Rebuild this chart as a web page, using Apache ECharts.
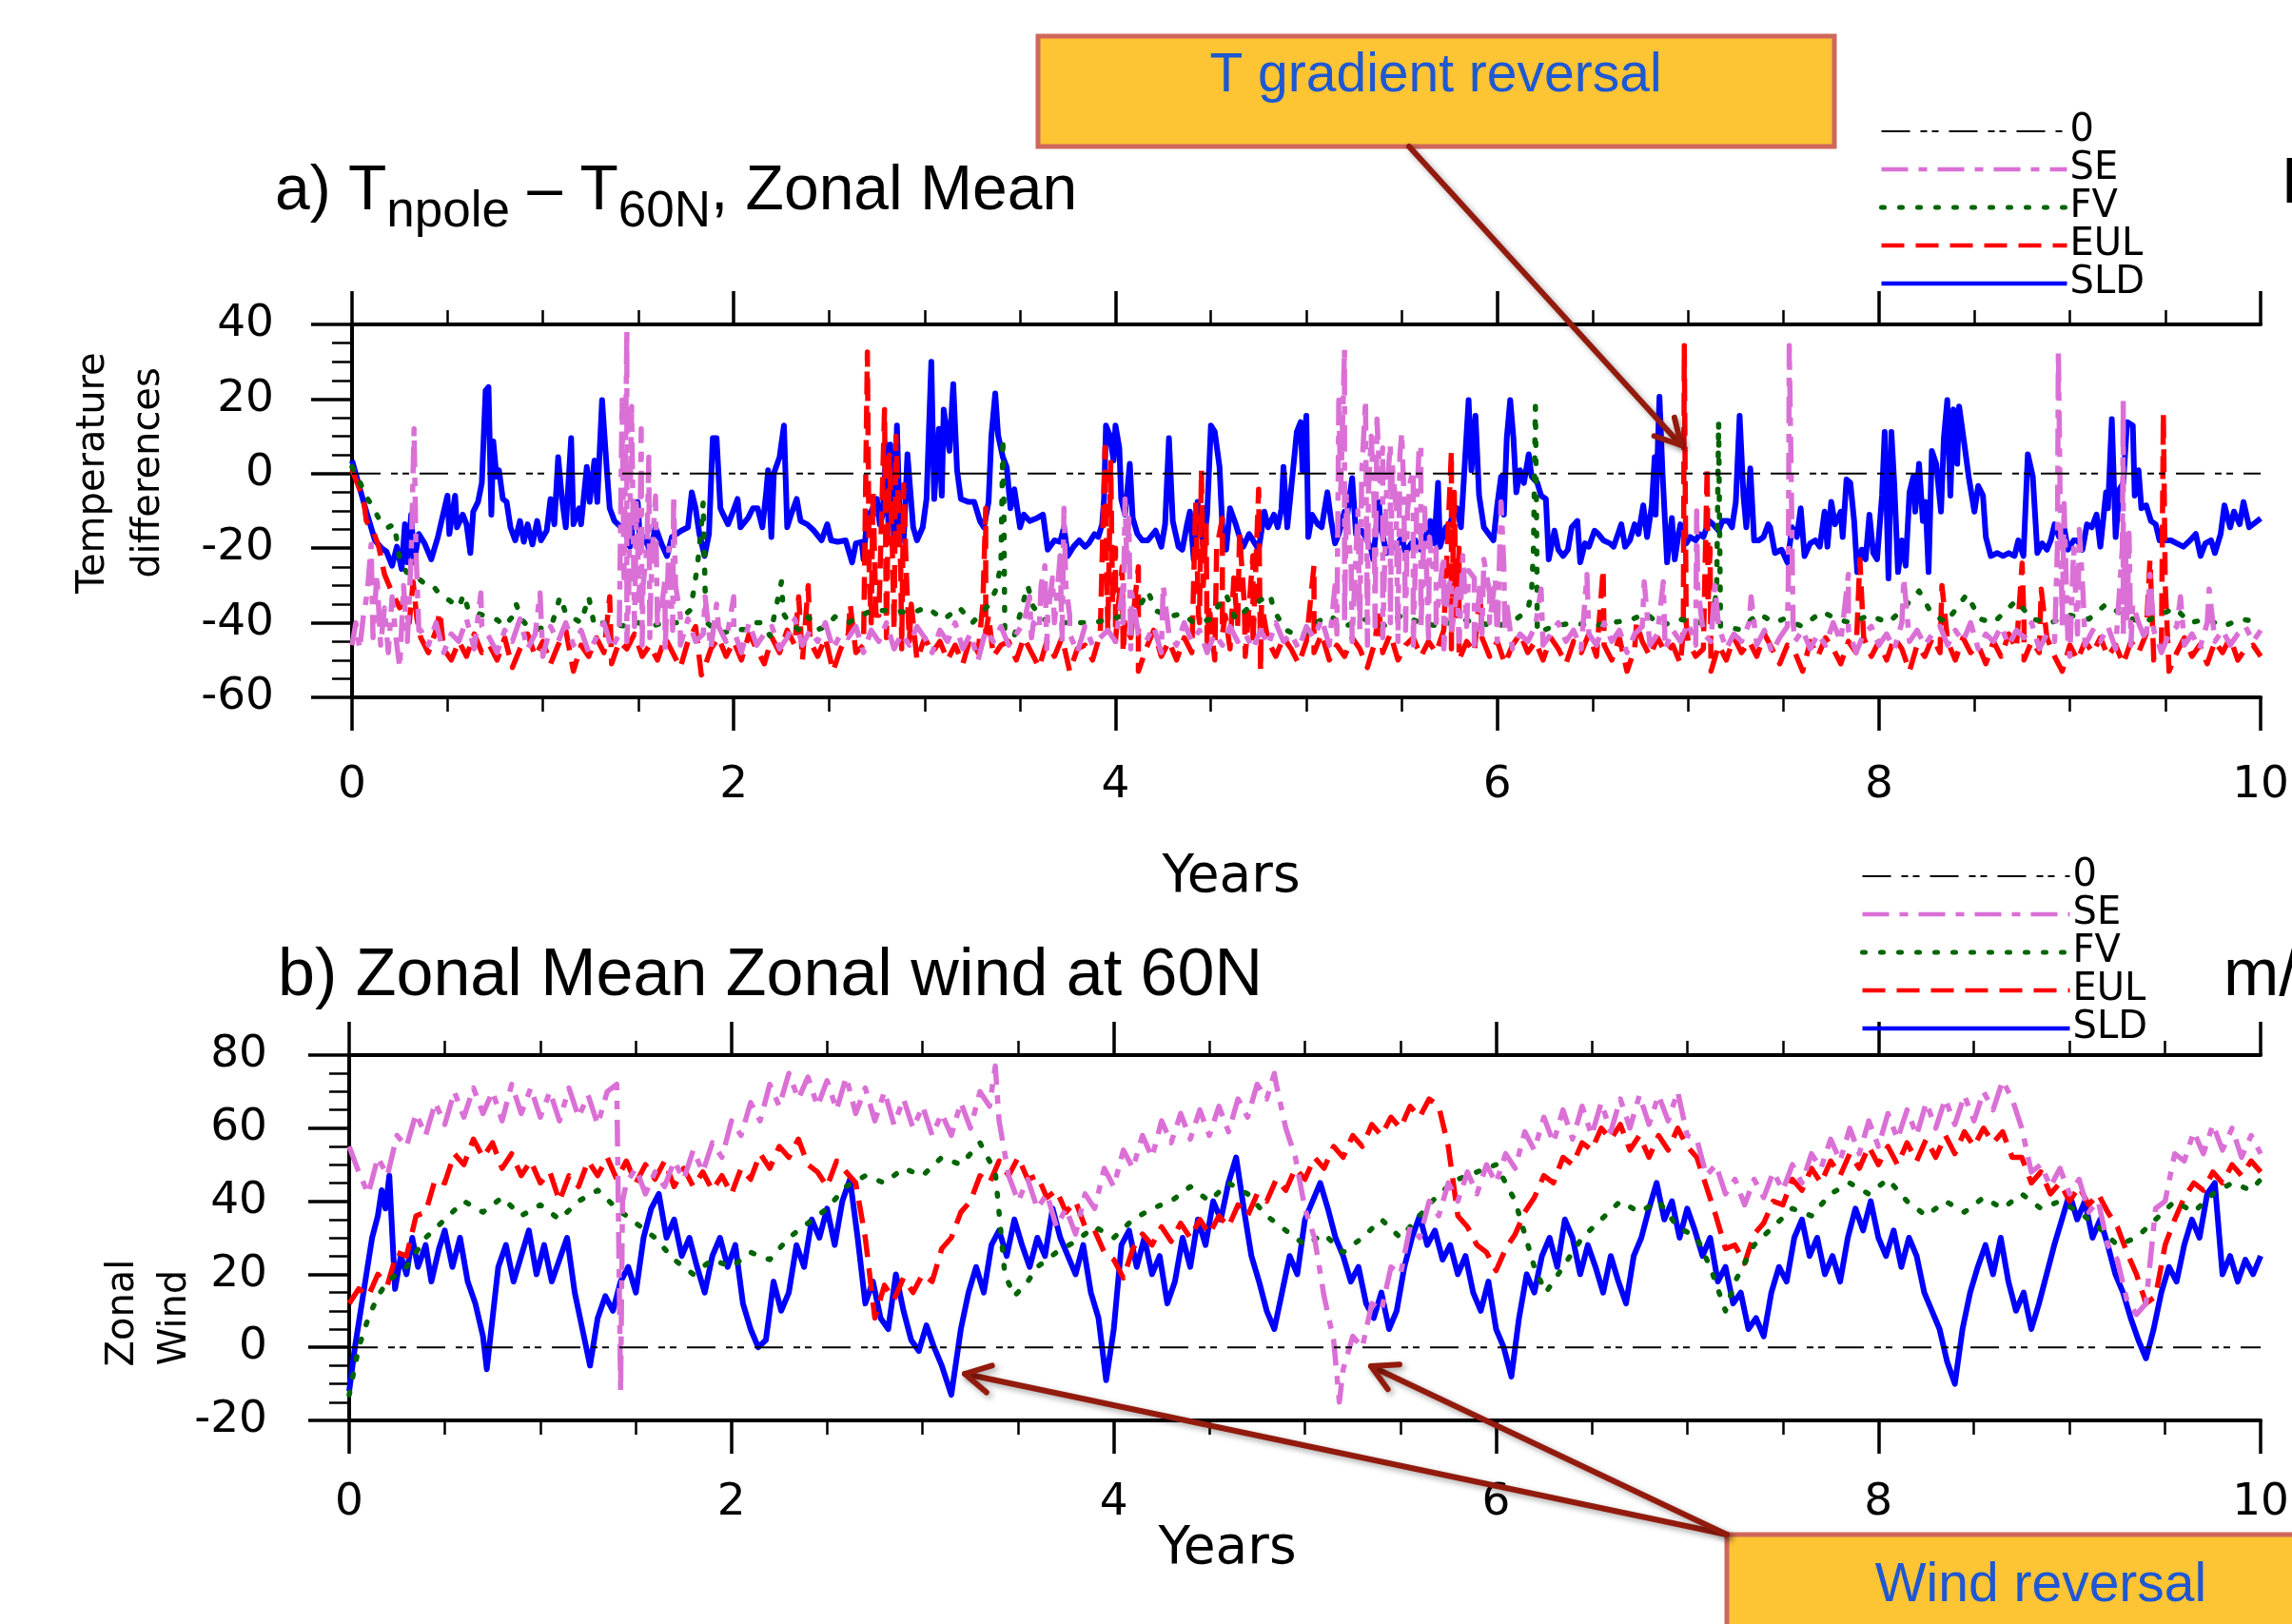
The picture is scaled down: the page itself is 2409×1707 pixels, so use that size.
<!DOCTYPE html>
<html><head><meta charset="utf-8">
<script src="https://cdn.jsdelivr.net/npm/echarts@6/dist/echarts.min.js"></script>
<style>html,body{margin:0;padding:0;background:#fff;overflow:hidden}#c{width:2409px;height:1707px}</style>
</head><body><div id="c"></div><script>
// ---------------- DATA ----------------
const legendOrder = ['0', 'SE', 'FV', 'EUL', 'SLD'];
const yearTicks = [0, 2, 4, 6, 8, 10];
const tempTicks = [-60, -40, -20, 0, 20, 40];
const windTicks = [-20, 0, 20, 40, 60, 80];

// sampling grids (years) for the noisy daily curves
const tempGridStart = 0.36, tempGridStep = 0.04;
const windGridStart = 0, windGridStep = 0.05;

// ---- panel a: T_npole - T_60N ----
const sldTemp = [[0,3.5],[0.07,-9.3],[0.12,-17.9],[0.155,-20],[0.18,-20.9],[0.21,-24.7],[0.235,-19.6],[0.26,-25.6],[0.277,-13.6],[0.29,-23.8],[0.31,-11],[0.325,-23.8],[0.35,-16.2],[0.38,-18.7],[0.415,-23],[0.45,-17],[0.465,-13.6],[0.5,-5.9],[0.51,-16.2],[0.54,-5.9],[0.55,-14.4],[0.58,-11],[0.6,-13.6],[0.62,-21.3],[0.635,-10.2],[0.66,-7.6],[0.68,-2.5],[0.7,22.3],[0.715,23.2],[0.73,-11],[0.74,8.6],[0.757,-0.8],[0.77,0.9],[0.79,-6.8],[0.81,-7.6],[0.83,-14.4],[0.855,-17.9],[0.88,-12.7],[0.9,-18.3],[0.92,-13.6],[0.945,-19],[0.97,-12.7],[0.99,-17.9],[1.02,-15.3],[1.04,-6.8],[1.06,-13.6],[1.08,4.4],[1.1,-6.8],[1.12,-14.4],[1.148,9.5],[1.16,-13.6],[1.19,-9.3],[1.2,-13.6],[1.23,1.8],[1.245,-7.6],[1.27,3.5],[1.285,-7.6],[1.31,19.7],[1.335,0.9],[1.35,-9.3],[1.375,-12.7],[1.41,-14.4],[1.43,-15.3],[1.456,-19.6],[1.47,-14.4],[1.497,-7.6],[1.51,-19.6],[1.54,-17],[1.56,-21.3],[1.59,-14.4],[1.62,-18.7],[1.65,-22.1],[1.676,-17],[1.7,-16.2],[1.725,-15.3],[1.76,-14.4],[1.78,-5],[1.8,-9.3],[1.82,-16.2],[1.847,-22.1],[1.87,-16.2],[1.89,9.5],[1.91,9.5],[1.93,-9.3],[1.945,-11],[1.97,-13.6],[1.99,-11],[2.02,-6.8],[2.035,-14.4],[2.075,-11.9],[2.1,-9.3],[2.125,-9.3],[2.15,-14.4],[2.17,-5],[2.18,0.9],[2.197,-17],[2.21,0.1],[2.24,4.4],[2.263,12.9],[2.28,-14.4],[2.3,-11],[2.33,-6.8],[2.35,-12.7],[2.385,-13.6],[2.42,-15.3],[2.46,-17.9],[2.49,-13.6],[2.51,-17.9],[2.545,-18.3],[2.586,-17.9],[2.62,-23.8],[2.64,-18.7],[2.67,-18.3],[2.68,-23],[2.7,-11],[2.72,-10.2],[2.75,-6.8],[2.765,-13.6],[2.78,-11],[2.8,7.8],[2.81,-13.6],[2.82,7.8],[2.84,-17.9],[2.855,12.9],[2.87,-14.4],[2.89,-17.9],[2.91,5.2],[2.94,-14.4],[2.96,-17.9],[2.99,-14.4],[3.01,-6.8],[3.035,30],[3.05,-6.8],[3.075,12],[3.09,-5.9],[3.1,17.2],[3.13,6.1],[3.15,24],[3.17,0.9],[3.19,-6.8],[3.23,-7.6],[3.26,-7.6],[3.29,-12.7],[3.31,-14.4],[3.335,-7.6],[3.35,10.3],[3.37,21.5],[3.385,10.3],[3.41,4.4],[3.43,1.8],[3.45,-9.3],[3.47,-4.2],[3.5,-14.4],[3.52,-11],[3.55,-12.7],[3.59,-11.9],[3.62,-11],[3.645,-20.4],[3.68,-17.9],[3.71,-18.3],[3.73,-14.4],[3.75,-22.1],[3.78,-19.6],[3.81,-17.9],[3.84,-19.6],[3.86,-18.7],[3.89,-16.2],[3.91,-17],[3.93,-13.6],[3.94,-6.8],[3.95,12.9],[3.97,10.3],[3.99,3.5],[4.0,12.9],[4.02,6.9],[4.03,-6.8],[4.05,-11],[4.075,2.6],[4.09,-11.9],[4.115,-16.2],[4.14,-17.9],[4.17,-17.9],[4.21,-15.3],[4.24,-19.6],[4.26,-13.6],[4.28,9.5],[4.3,-12.7],[4.33,-19.6],[4.35,-20.4],[4.375,-13.6],[4.39,-10.2],[4.41,-23],[4.43,-7.6],[4.46,-19.6],[4.48,-11],[4.5,12.9],[4.52,11.2],[4.545,1.8],[4.56,-14.4],[4.58,-20.4],[4.6,-9.3],[4.63,-13.6],[4.65,-17],[4.67,-19.6],[4.7,-16.2],[4.73,-18.7],[4.75,-20.4],[4.78,-10.2],[4.8,-14.4],[4.83,-11],[4.85,-14.4],[4.87,-9.3],[4.88,1.8],[4.9,-14.4],[4.93,0.9],[4.95,11.2],[4.97,13.8],[4.98,0.9],[5.0,15.5],[5.01,-17],[5.03,-11],[5.06,-13.6],[5.08,-14.4],[5.11,-5],[5.13,-12.7],[5.15,-18.7],[5.17,-16.2],[5.2,-10.2],[5.21,-12.7],[5.24,-1.2],[5.26,-16.2],[5.29,-15.3],[5.31,-17],[5.34,-20.4],[5.35,-23],[5.38,-7.6],[5.39,-14.4],[5.42,-21.3],[5.44,-19.6],[5.47,-19.6],[5.5,-17],[5.52,-21.3],[5.55,-18.7],[5.57,-17.9],[5.6,-20.4],[5.63,-16.2],[5.65,-12.7],[5.67,-18.7],[5.69,-2.5],[5.7,-19.6],[5.73,-14.4],[5.75,-13.6],[5.77,-11],[5.79,-9.3],[5.81,-14.4],[5.83,2.6],[5.85,19.7],[5.865,0.9],[5.886,15.5],[5.905,-5.9],[5.93,-14.4],[5.955,-16.2],[5.98,-17.9],[6.0,-8.5],[6.02,-0.8],[6.035,-11],[6.05,9.5],[6.068,19.7],[6.085,9.5],[6.1,-5],[6.12,0.9],[6.14,-2.5],[6.165,5.2],[6.18,-0.8],[6.21,-2.5],[6.23,-5.9],[6.255,-6.8],[6.27,-23],[6.3,-15.3],[6.32,-20.4],[6.345,-22.1],[6.37,-20.4],[6.39,-14.4],[6.42,-12.7],[6.435,-23.8],[6.46,-18.7],[6.48,-19.6],[6.51,-15.3],[6.53,-16.2],[6.556,-17.9],[6.59,-18.7],[6.61,-19.6],[6.65,-13.6],[6.67,-19.6],[6.695,-17.9],[6.72,-13.6],[6.74,-16.2],[6.765,-8.5],[6.785,-17],[6.81,-8.5],[6.825,4.4],[6.83,-11],[6.85,20.6],[6.866,0.1],[6.89,-23.8],[6.915,-11.9],[6.93,-23],[6.95,-16.2],[6.96,-13.6],[6.99,-18.7],[7.01,-17],[7.04,-17.9],[7.06,-16.2],[7.08,-17],[7.11,-12.7],[7.13,-13.6],[7.16,-15.3],[7.18,-12.7],[7.21,-12.7],[7.23,-14.4],[7.25,-7.6],[7.27,15.5],[7.29,-5.9],[7.305,-14.4],[7.326,1.4],[7.346,-17.9],[7.37,-17.9],[7.395,-17],[7.42,-13.6],[7.43,-14.4],[7.455,-21.3],[7.49,-20.4],[7.52,-23.8],[7.545,-14.4],[7.57,-17],[7.59,-9.3],[7.61,-22.1],[7.64,-18.7],[7.666,-17.9],[7.69,-19.6],[7.715,-10.2],[7.73,-19.6],[7.75,-7.6],[7.77,-13.6],[7.8,-10.2],[7.81,-17],[7.83,-1.6],[7.85,-2.5],[7.87,-12.7],[7.886,-26.4],[7.91,-20.4],[7.93,-23],[7.95,-11],[7.97,-21.3],[7.99,-23],[8.016,-5.9],[8.03,11.2],[8.05,-28.1],[8.065,11.2],[8.08,-2.5],[8.1,-26.4],[8.12,-17.9],[8.14,-24.7],[8.16,-5],[8.18,-0.8],[8.19,-10.2],[8.21,2.6],[8.23,-12.7],[8.244,-7.6],[8.26,-26.4],[8.277,6.1],[8.3,2.6],[8.325,-10.2],[8.34,9.5],[8.358,19.7],[8.374,-5.9],[8.39,17.2],[8.41,2.6],[8.42,18],[8.45,6.9],[8.47,-0.8],[8.5,-10.2],[8.52,-3.3],[8.545,-5.9],[8.56,-17],[8.586,-22.1],[8.62,-21.3],[8.65,-22.1],[8.68,-21.3],[8.71,-22.1],[8.73,-17.9],[8.757,-22.1],[8.78,5.2],[8.806,-0.8],[8.83,-21.3],[8.855,-18.7],[8.88,-20.4],[8.9,-17.9],[8.92,-13.6],[8.944,-17],[8.97,-14.4],[8.99,-20.4],[9.02,-17.9],[9.04,-17.9],[9.066,-20.4],[9.09,-13.6],[9.115,-14.4],[9.14,-11],[9.16,-19.6],[9.19,-5],[9.2,-9.3],[9.22,14.6],[9.24,-17],[9.26,-4.2],[9.28,-2.5],[9.3,13.8],[9.33,12.9],[9.34,-5.9],[9.36,0.9],[9.375,-9.3],[9.4,-8.5],[9.425,-12.7],[9.45,-13.6],[9.47,-17.9],[9.5,-17.9],[9.53,-17.9],[9.56,-18.7],[9.595,-19.6],[9.63,-17.9],[9.66,-16.2],[9.685,-22.1],[9.71,-18.7],[9.74,-17.9],[9.76,-21.3],[9.79,-16.2],[9.81,-8.5],[9.84,-14.4],[9.86,-10.2],[9.89,-13.6],[9.91,-7.6],[9.94,-14.4],[10,-12]];

const eulTempStart = [[0,1],[0.06,-6.8],[0.075,-12.7],[0.115,-16],[0.14,-19.6],[0.17,-27],[0.2,-30.7],[0.22,-33],[0.25,-36],[0.27,-34],[0.3,-40],[0.32,-29],[0.34,-39]];
const eulTempNoise = [-44,-48,-42,-47,-50,-45,-49,-43,-48,-46,
 -50,-44,-52,-47,-43,-49,-45,-51,-46,-42,
 -53,-46,-49,-44,-48,-51,-45,-47,-43,-49,
 -46,-50,-44,-48,-52,-45,-41,-53,-47,-44,
 -49,-45,-50,-43,-47,-51,-44,-48,-42,-46,
 -50,-45,-49,-44,-53,-47,-43,-48,-46,-40,
 -38,-44,-42,-47,-45,-50,-44,-48,-45,-50,
 -46,-51,-44,-48,-43,-49,-46,-45,-50,-44,
 -48,-52,-45,-49,-44,-53,-47,-46,-50,-43,
 -42,-45,-48,-44,-53,-47,-42,-49,-45,-50,
 -44,-48,-40,-46,-50,-43,-47,-41,-49,-46,
 -53,-45,-49,-44,-47,-51,-45,-48,-43,-50,
 -46,-49,-44,-47,-52,-45,-48,-43,-50,-46,
 -44,-49,-45,-48,-42,-47,-50,-45,-48,-44,
 -49,-45,-51,-46,-43,-48,-45,-50,-44,-47,
 -51,-45,-48,-43,-49,-46,-50,-44,-53,-47,
 -45,-49,-44,-48,-46,-51,-45,-49,-47,-53,
 -46,-50,-44,-48,-45,-49,-43,-47,-51,-46,
 -48,-53,-45,-49,-44,-47,-51,-45,-48,-44,
 -49,-45,-50,-44,-47,-53,-46,-49,-44,-48,
 -45,-50,-44,-48,-46,-51,-45,-49,-43,-47,
 -50,-45,-48,-44,-49,-53,-46,-50,-45,-48,
 -44,-49,-46,-51,-45,-48,-43,-50,-47,-53,
 -48,-44,-49,-46,-51,-45,-48,-44,-50,-47,
 -46,-49];
const eulTempEvents = [[0.46,-37],[1.35,-33],[1.83,-54],[2.34,-33],[2.39,-30],[2.61,-35],
 [2.70,32.6],[2.71,-28],[2.73,-5],[2.745,-38],[2.77,-20],[2.79,17.2],[2.805,-25],[2.815,5],[2.83,-18],[2.85,10],[2.865,-12],[2.875,-26],[2.89,-3],[2.905,-28],[2.93,-35],
 [3.305,-35],[3.32,-9.3],[3.335,-38],
 [3.945,7],[3.955,-30],[3.975,3],[3.985,-35],[4.0,-20],[4.015,-35],[4.035,-25],[4.05,-40],[4.12,-25],
 [4.42,-7.6],[4.435,-38],[4.45,1],[4.46,-30],[4.475,-14],[4.49,-35],[4.53,-20],[4.56,-12],[4.575,-38],[4.62,-28],[4.65,-16],[4.675,-35],[4.72,-22],[4.75,-4.2],[4.765,-35],
 [5.04,-24.7],[5.38,-36],[5.76,6],[5.765,-30],[5.775,-5],[5.785,-38],[5.80,-20],[5.91,-31.5],[6.555,-25.6],[6.73,-40],
 [6.975,-42],[6.98,34.3],[6.99,-40],[7.10,1.8],[7.105,-35],[7.115,-20],
 [7.9,-23],[8.33,-30],[8.75,-24],[8.76,-40],[8.85,-31],[9.42,-23],[9.49,16.3],[9.50,-30]];

const seTempStart = [[0,-46],[0.02,-40],[0.04,-47],[0.06,-38],[0.08,-32],[0.1,-19],[0.11,-44],[0.13,-27],[0.15,-46],[0.17,-36],[0.19,-48],[0.21,-33],[0.23,-44],[0.25,-52],[0.27,-30],[0.29,-45],[0.31,-22],[0.325,12],[0.335,-20],[0.35,-42]];
const seTempNoise = [-42,-46,-40,-48,-43,-45,-39,-47,-41,-44,
 -48,-42,-45,-39,-47,-43,-49,-41,-45,-40,
 -46,-42,-48,-44,-40,-47,-43,-45,-41,-46,
 -44,-40,-48,-42,-46,-39,-45,-43,-47,-41,
 -45,-42,-48,-40,-46,-43,-41,-47,-44,-39,
 -46,-42,-45,-40,-47,-43,-44,-41,-48,-42,
 -45,-40,-47,-43,-46,-41,-44,-48,-42,-45,
 -40,-47,-43,-50,-42,-45,-41,-46,-43,-40,
 -44,-42,-47,-40,-45,-43,-48,-41,-46,-44,
 -42,-45,-40,-47,-43,-45,-41,-48,-43,-46,
 -40,-45,-42,-48,-43,-46,-41,-45,-43,-47,
 -42,-46,-40,-45,-43,-47,-41,-44,-39,-46,
 -43,-40,-45,-42,-46,-41,-44,-40,-45,-42,
 -46,-42,-44,-40,-47,-43,-45,-41,-46,-43,
 -40,-45,-42,-47,-43,-45,-41,-46,-43,-40,
 -45,-42,-47,-43,-46,-40,-45,-42,-48,-43,
 -41,-46,-43,-47,-42,-45,-40,-46,-43,-45,
 -41,-47,-43,-45,-40,-46,-42,-48,-44,-41,
 -45,-42,-47,-43,-46,-40,-45,-42,-48,-43,
 -41,-46,-43,-47,-40,-45,-42,-46,-43,-41,
 -46,-42,-45,-40,-47,-43,-45,-41,-46,-42,
 -44,-40,-47,-43,-45,-41,-49,-43,-46,-42,
 -45,-41,-47,-43,-46,-40,-45,-42,-48,-43,
 -41,-46,-43,-47,-40,-45,-42,-46,-43,-41,
 -45,-42];
const seTempEvents = [[0.675,-32],[0.985,-32],
 [1.415,19.7],[1.425,-28],[1.44,38.5],[1.45,-31],[1.465,18],[1.475,-23],[1.49,-8],[1.505,-34],[1.515,12],[1.525,-30],[1.545,-20],[1.555,4.4],[1.565,-32],[1.58,-14],[1.59,-6],[1.605,-35],[1.62,-37],[1.64,-28],[1.66,-20],[1.685,-5.9],[1.695,-30],[1.72,-38],
 [1.85,-33],[1.91,-35],[2.0,-33],
 [3.55,-33],[3.57,-40],[3.61,-30],[3.63,-24.7],[3.645,-38],[3.67,-28],[3.69,-35],[3.71,-22],[3.73,-9.3],[3.74,-30],[3.76,-38],
 [4.04,-30],[4.05,-6.8],[4.06,-25],[4.07,-12],[4.085,-32],[4.25,-30],
 [5.15,-30],[5.17,19.7],[5.18,-5],[5.2,33.4],[5.21,-6],[5.22,-16],[5.235,-25],[5.25,-33],[5.27,-10],[5.29,0],[5.31,19.7],[5.325,-5],[5.34,10],[5.355,-8],[5.37,14.6],[5.385,-2],[5.40,6.9],[5.42,-5],[5.44,7.8],[5.45,2.6],[5.47,-9],[5.49,5],[5.50,11],[5.51,-4],[5.53,-10],[5.545,-2],[5.56,0.9],[5.58,-6],[5.59,6],[5.60,7.8],[5.62,-9.3],[5.645,-17],[5.66,-25],[5.68,-20],[5.70,-30],[5.72,-22],[5.74,-31],[5.76,-28],[5.79,-31],[5.82,-22],[5.85,-26],[5.88,-28],[5.91,-30],[5.93,-23],[5.96,-32],[5.99,-28],[6.02,-7.6],[6.035,-25],[6.05,-35],
 [6.23,-31],[6.47,-27],[6.77,-29],[6.87,-29],[7.045,-10],[7.05,-30],[7.14,-30],[7.33,-33],
 [7.525,-30],[7.53,34.3],[7.54,0],[7.55,-40],[7.84,-27],[8.13,-28],
 [8.935,-20],[8.94,33.4],[8.95,-10],[8.96,-40],[8.97,-8],[8.99,-45],[9.02,-20],[9.05,-15],[9.07,-33],
 [9.275,-20],[9.28,19.7],[9.29,-15],[9.30,-40],[9.31,-16],[9.33,-35],[9.42,-27],[9.58,-33],[9.73,-31]];

const fvTemp = [[0,1.8],[0.03,-0.8],[0.07,-5.9],[0.105,-8.5],[0.13,-11],[0.155,-13.6],[0.19,-14.4],[0.22,-13.6],[0.235,-17.9],[0.25,-23],[0.285,-26.4],[0.33,-27.4],[0.38,-29.5],[0.42,-29.8],[0.46,-32.4],[0.51,-34],[0.56,-35.8],[0.585,-32.4],[0.61,-36.7],[0.66,-37.5],[0.71,-38.4],[0.76,-39.2],[0.8,-40.9],[0.84,-38.4],[0.86,-35],[0.89,-39.2],[0.92,-40.9],[0.97,-41.8],[1.02,-40.9],[1.05,-40],[1.09,-33],[1.12,-37.5],[1.15,-38.4],[1.2,-40],[1.24,-33],[1.27,-40.9],[1.31,-40],[1.37,-40.5],[1.44,-40.9],[1.5,-40],[1.57,-40.9],[1.63,-40],[1.7,-40],[1.77,-36.7],[1.79,-31.5],[1.81,-24.6],[1.83,-14.4],[1.84,-7.6],[1.845,-19.6],[1.85,-31.5],[1.86,-40],[1.9,-41.8],[1.95,-42.6],[2.01,-41.8],[2.06,-41.8],[2.1,-40],[2.14,-40],[2.19,-43.5],[2.25,-29],[2.26,-37.5],[2.29,-40],[2.34,-41.8],[2.39,-38.4],[2.44,-41.8],[2.49,-40.9],[2.53,-38.4],[2.6,-40],[2.72,-36.7],[2.84,-36.7],[2.93,-37.5],[3.01,-35.8],[3.1,-39.2],[3.18,-35.8],[3.25,-40],[3.34,-35],[3.37,-31.5],[3.40,-24.7],[3.41,9.5],[3.415,-7.6],[3.42,-42.6],[3.47,-43.5],[3.54,-30],[3.57,-35.8],[3.63,-39.2],[3.73,-40],[3.81,-40],[3.88,-40],[3.96,-39.2],[4.02,-38.4],[4.09,-39.2],[4.17,-31.5],[4.21,-36.7],[4.28,-38.4],[4.35,-37.5],[4.41,-40],[4.49,-39.2],[4.58,-32.4],[4.63,-39.2],[4.7,-35.8],[4.81,-32.4],[4.83,-36.7],[4.89,-41.8],[4.95,-43.5],[5.0,-42.6],[5.05,-40],[5.12,-38],[5.2,-41],[5.3,-39],[5.4,-41],[5.5,-38],[5.6,-40],[5.7,-41],[5.8,-39],[5.9,-40],[6.0,-41],[6.1,-39],[6.16,-36.7],[6.18,-31.5],[6.19,-20],[6.2,18],[6.205,-6],[6.21,-42.6],[6.3,-40.9],[6.4,-40],[6.5,-40.9],[6.6,-40],[6.7,-39.2],[6.78,-37.5],[6.86,-40.9],[6.95,-39],[7.05,-40],[7.13,-40],[7.15,-30],[7.16,13.8],[7.165,-14.4],[7.17,-40.9],[7.27,-41.8],[7.37,-37.5],[7.45,-40],[7.5,-39],[7.6,-41],[7.7,-37],[7.78,-39],[7.85,-40],[7.95,-38],[8.05,-40],[8.13,-36],[8.21,-31.5],[8.27,-37],[8.35,-40],[8.46,-32.4],[8.53,-39],[8.6,-40],[8.66,-37],[8.72,-34],[8.8,-39],[8.9,-40],[9.0,-38],[9.1,-39],[9.19,-35],[9.28,-38],[9.38,-40],[9.47,-38],[9.55,-36],[9.63,-40],[9.72,-39],[9.8,-41],[9.9,-39],[10,-40]];

// ---- panel b: zonal mean zonal wind at 60N ----
const sldWind = [[0,-12],[0.03,0],[0.06,10],[0.09,20],[0.12,30],[0.15,36],[0.17,43],[0.19,38],[0.21,47],[0.24,16],[0.27,25],[0.3,20],[0.33,30],[0.36,22],[0.4,28],[0.43,18],[0.47,27],[0.5,32],[0.54,22],[0.58,30],[0.62,18],[0.66,12],[0.7,3],[0.72,-6],[0.75,8],[0.78,22],[0.82,28],[0.86,18],[0.9,25],[0.94,32],[0.98,20],[1.02,28],[1.06,18],[1.1,24],[1.14,30],[1.18,15],[1.22,5],[1.26,-5],[1.3,8],[1.34,14],[1.38,10],[1.42,18],[1.46,22],[1.5,15],[1.54,30],[1.58,38],[1.62,42],[1.66,30],[1.7,35],[1.74,25],[1.78,30],[1.82,22],[1.86,15],[1.9,25],[1.94,30],[1.98,22],[2.02,28],[2.06,12],[2.1,5],[2.14,0],[2.18,2],[2.22,18],[2.26,10],[2.3,15],[2.34,28],[2.38,22],[2.42,35],[2.46,30],[2.5,38],[2.54,28],[2.58,40],[2.62,46],[2.66,30],[2.7,12],[2.74,18],[2.78,8],[2.82,5],[2.86,20],[2.9,10],[2.94,2],[2.98,-1],[3.02,6],[3.06,0],[3.1,-5],[3.15,-13],[3.2,5],[3.24,15],[3.28,22],[3.32,15],[3.36,28],[3.4,32],[3.44,25],[3.48,35],[3.52,28],[3.56,22],[3.6,30],[3.64,25],[3.68,38],[3.72,30],[3.76,25],[3.8,20],[3.84,28],[3.88,15],[3.92,8],[3.96,-9],[4.0,5],[4.04,28],[4.08,32],[4.12,22],[4.16,30],[4.2,20],[4.24,25],[4.28,12],[4.32,18],[4.36,30],[4.4,22],[4.44,35],[4.48,28],[4.52,40],[4.56,35],[4.6,45],[4.64,52],[4.68,38],[4.72,25],[4.76,18],[4.8,10],[4.84,5],[4.88,15],[4.92,25],[4.96,20],[5.0,35],[5.04,40],[5.08,45],[5.12,38],[5.16,30],[5.2,25],[5.24,18],[5.28,22],[5.32,12],[5.36,8],[5.4,15],[5.44,5],[5.48,10],[5.52,22],[5.56,30],[5.6,36],[5.64,28],[5.68,32],[5.72,24],[5.76,28],[5.8,20],[5.84,25],[5.88,15],[5.92,10],[5.96,18],[6.0,5],[6.04,0],[6.08,-8],[6.12,8],[6.16,20],[6.2,15],[6.24,25],[6.28,30],[6.32,22],[6.36,35],[6.4,30],[6.44,20],[6.48,28],[6.52,22],[6.56,15],[6.6,25],[6.64,18],[6.68,12],[6.72,25],[6.76,30],[6.8,38],[6.84,45],[6.88,35],[6.92,40],[6.96,30],[7.0,38],[7.04,32],[7.08,25],[7.12,30],[7.16,18],[7.2,22],[7.24,12],[7.28,15],[7.32,5],[7.36,8],[7.4,3],[7.44,15],[7.48,22],[7.52,18],[7.56,30],[7.6,35],[7.64,25],[7.68,30],[7.72,20],[7.76,25],[7.8,18],[7.84,30],[7.88,38],[7.92,32],[7.96,40],[8.0,30],[8.04,25],[8.08,32],[8.12,22],[8.16,30],[8.2,25],[8.24,15],[8.28,10],[8.32,5],[8.36,-4],[8.4,-10],[8.44,5],[8.48,15],[8.52,22],[8.56,28],[8.6,20],[8.64,30],[8.68,18],[8.72,10],[8.76,15],[8.8,5],[8.84,12],[8.88,20],[8.92,28],[8.96,35],[9.0,42],[9.04,35],[9.08,40],[9.12,30],[9.16,35],[9.2,28],[9.24,20],[9.28,15],[9.32,8],[9.36,2],[9.4,-3],[9.44,5],[9.48,15],[9.52,22],[9.56,18],[9.6,28],[9.64,35],[9.68,30],[9.72,42],[9.76,45],[9.8,20],[9.84,25],[9.88,18],[9.92,24],[9.96,20],[10,25]];

const seWindGrid = [55,48,42,52,47,58,55,64,58,67,61,70,63,71,64,70,62,72,64,71,
 63,70,62,71,63,69,61,70,72,45,49,42,48,44,51,46,54,48,56,52,
 62,58,67,62,72,66,75,68,74,66,73,65,74,64,71,62,70,61,68,60,
 66,58,64,58,67,60,70,66,62,47,40,46,38,42,33,38,31,42,38,49,
 44,54,49,58,52,62,56,64,57,65,58,66,59,68,63,72,68,72,60,52,
 38,30,14,2,-6,3,0,12,10,22,20,33,30,40,36,45,40,48,42,50,
 45,53,49,59,54,63,56,65,57,66,58,67,59,68,60,69,61,69,62,70,
 58,57,47,50,42,46,39,46,41,48,43,50,45,53,49,57,51,60,53,62,
 55,64,57,65,58,67,60,68,61,69,62,70,65,73,68,60,48,50,44,49,
 42,46,37,40,28,24,13,9,12,38,40,53,51,59,53,61,54,60,52,58,
 53];
const seWindEvents = [[1.42,-12],[1.43,40],[3.38,77],[4.84,75],[5.18,-15]];

const eulWindGrid = [12,16,14,20,17,26,25,36,37,46,45,53,50,57,52,56,49,53,47,51,
 45,48,40,47,44,51,47,52,46,51,45,50,46,51,44,49,44,48,43,47,
 42,49,46,53,49,55,52,57,50,48,44,51,48,45,30,8,17,13,19,15,
 20,18,27,30,37,40,47,45,51,47,52,46,47,41,43,37,40,33,32,26,
 24,19,27,31,28,33,29,34,30,35,31,36,33,39,36,42,40,46,43,49,
 46,52,49,55,52,58,55,61,58,63,60,66,63,68,66,55,36,33,28,26,
 21,27,31,37,41,47,45,52,50,56,54,60,57,61,54,58,52,58,54,60,
 55,52,44,36,27,28,23,31,34,40,39,46,43,49,45,51,47,53,49,55,
 50,55,50,56,51,57,52,58,53,59,55,60,56,59,52,52,45,48,42,45,
 40,44,39,42,37,33,26,20,12,14,28,35,41,45,43,48,45,50,47,51,
 48];

const fvWind = [[0,-13],[0.05,0],[0.1,8],[0.15,14],[0.2,18],[0.3,22],[0.4,30],[0.5,35],[0.6,40],[0.7,37],[0.8,41],[0.9,36],[1.0,39],[1.1,35],[1.2,40],[1.3,43],[1.4,38],[1.5,34],[1.6,30],[1.7,24],[1.8,20],[1.9,24],[2.0,22],[2.1,26],[2.2,24],[2.3,30],[2.4,34],[2.5,38],[2.6,44],[2.7,47],[2.8,45],[2.9,49],[3.0,47],[3.1,52],[3.2,50],[3.3,56],[3.38,48],[3.43,20],[3.48,14],[3.55,18],[3.6,22],[3.7,26],[3.8,29],[3.9,33],[4.0,30],[4.1,35],[4.2,38],[4.3,40],[4.4,44],[4.5,40],[4.6,45],[4.7,42],[4.8,36],[4.9,32],[5.0,28],[5.1,31],[5.2,26],[5.3,30],[5.4,35],[5.5,30],[5.6,36],[5.7,42],[5.8,46],[5.9,48],[6.0,50],[6.1,40],[6.2,22],[6.26,15],[6.35,22],[6.45,30],[6.55,35],[6.65,40],[6.75,37],[6.85,40],[6.95,33],[7.05,30],[7.12,22],[7.2,10],[7.25,18],[7.35,28],[7.45,33],[7.55,38],[7.65,36],[7.75,42],[7.85,45],[7.95,42],[8.05,46],[8.15,40],[8.25,36],[8.35,40],[8.45,37],[8.55,41],[8.65,38],[8.75,42],[8.85,38],[8.95,40],[9.05,37],[9.15,33],[9.25,28],[9.35,30],[9.45,35],[9.55,40],[9.65,37],[9.75,42],[9.85,45],[9.95,43],[10,46]];
const zeroLine = [[0,0],[10,0]];

// ---------------- BUILD ----------------
function onGrid(start, step, vals, extra) {
  const pts = vals.map((v, i) => [Math.round((start + i * step) * 1000) / 1000, v]);
  return extra.concat(pts).sort((a, b) => a[0] - b[0]);
}
const eulTemp = onGrid(tempGridStart, tempGridStep, eulTempNoise, eulTempStart.concat(eulTempEvents));
const seTemp = onGrid(tempGridStart, tempGridStep, seTempNoise, seTempStart.concat(seTempEvents));
const seWind = onGrid(windGridStart, windGridStep, seWindGrid, seWindEvents);
const eulWind = onGrid(windGridStart, windGridStep, eulWindGrid, []);

const COL = {SLD:'#0000FF', EUL:'#FF0000', FV:'#006400', SE:'#DA70D6', '0':'#000000'};
const STYLE = {
  SLD: {width:6, type:'solid'},
  EUL: {width:5.5, type:[24,12]},
  FV:  {width:5.5, type:[3,16], cap:'round'},
  SE:  {width:5.5, type:[28,11,9,11]},
  '0': {width:2, type:[30,11,7,5,7,11]}
};
const LEGEND_W = {SLD:4.5, EUL:4.5, FV:5, SE:4.5, '0':2};
const FONT = 'DejaVu Sans';

function mkSeries(name, data, xi, yi) {
  const s = STYLE[name];
  return {name, type:'line', data, xAxisIndex:xi, yAxisIndex:yi, showSymbol:false, symbol:'none',
    silent:true, animation:false, clip:true,
    lineStyle:{color:COL[name], width:s.width, type:s.type, cap:s.cap||'butt', join:'round'},
    itemStyle:{color:COL[name]}};
}

function xAx(gi, pos, labels, margin) {
  return {gridIndex:gi, type:'value', min:0, max:10, interval:2, position:pos,
    axisLine:{show:true, onZero:false, lineStyle:{color:'#000', width:4}},
    axisTick:{show:true, inside:false, length:35, lineStyle:{color:'#000', width:3.5}},
    minorTick:{show:true, splitNumber:4, length:15, lineStyle:{color:'#000', width:2.5}},
    axisLabel:{show:labels, margin, fontSize:47, fontFamily:FONT, color:'#000',
      formatter: v => yearTicks.includes(v) ? String(v) : ''},
    splitLine:{show:false}, minorSplitLine:{show:false}};
}
function yAx(gi, ticks, margin) {
  return {gridIndex:gi, type:'value', min:ticks[0], max:ticks[ticks.length-1], interval:20, position:'left',
    axisLine:{show:true, onZero:false, lineStyle:{color:'#000', width:4}},
    axisTick:{show:true, inside:false, length:43, lineStyle:{color:'#000', width:3.5}},
    minorTick:{show:true, splitNumber:4, length:21, lineStyle:{color:'#000', width:2.5}},
    axisLabel:{margin, fontSize:47, fontFamily:FONT, color:'#000'},
    splitLine:{show:false}, minorSplitLine:{show:false}};
}

function arrow(x1, y1, x2, y2) {
  const a = Math.atan2(y2 - y1, x2 - x1), L = 30, w = 0.5;
  const st = {stroke:'#931B0E', lineWidth:6, fill:null, lineCap:'round', lineJoin:'round',
    shadowBlur:6, shadowColor:'rgba(0,0,0,0.35)', shadowOffsetX:3, shadowOffsetY:3};
  return [
    {type:'line', z:100, shape:{x1, y1, x2, y2}, style:st},
    {type:'polyline', z:100, shape:{points:[[x2 - L*Math.cos(a - w), y2 - L*Math.sin(a - w)], [x2, y2], [x2 - L*Math.cos(a + w), y2 - L*Math.sin(a + w)]]}, style:st}
  ];
}
function txt(x, y, text, font, extra) {
  return {type:'text', x, y, z:100, style:Object.assign({text, font, fill:'#000', align:'center', verticalAlign:'middle'}, extra || {})};
}

function legend(left, top, w, h) {
  return {data:legendOrder.map(n => ({name:n, itemStyle:{opacity:0, color:'rgba(0,0,0,0)', borderWidth:0},
      lineStyle:{width:LEGEND_W[n]}})),
    orient:'vertical', left, top, itemWidth:w, itemHeight:h, itemGap:0,
    selectedMode:false, inactiveColor:'#000',
    itemStyle:{opacity:0},
    textStyle:{fontSize:40, fontFamily:FONT, color:'#000', lineHeight:h, padding:[0,0,0,-2]}};
}

const annoFont = "57px 'Liberation Sans', Arial, sans-serif";
const option = {
  animation:false,
  backgroundColor:'#fff',
  grid:[{left:370, right:-9, top:341, height:392}, {left:367, right:-11, top:1109, height:384}],
  xAxis:[xAx(0,'bottom',true,69), xAx(0,'top',false,0), xAx(1,'bottom',true,63), xAx(1,'top',false,0)],
  yAxis:[yAx(0,tempTicks,82), yAx(1,windTicks,86)],
  legend:[legend(1970,113,195,35.3), legend(1950,896,218,34.3)],
  series:[
    mkSeries('SLD', sldTemp, 0, 0), mkSeries('EUL', eulTemp, 0, 0), mkSeries('FV', fvTemp, 0, 0), mkSeries('SE', seTemp, 0, 0), mkSeries('0', zeroLine, 0, 0),
    mkSeries('SLD', sldWind, 2, 1), mkSeries('EUL', eulWind, 2, 1), mkSeries('FV', fvWind, 2, 1), mkSeries('SE', seWind, 2, 1), mkSeries('0', zeroLine, 2, 1)
  ],
  graphic:[
    // titles
    {type:'text', x:289, y:154, z:100, style:{text:'{n|a) T}{s|npole}{n| – T}{s|60N}{n|, Zonal Mean}', align:'left', verticalAlign:'top',
      rich:{n:{fontSize:66, fontFamily:"'Liberation Sans'", fill:'#000', lineHeight:96, verticalAlign:'middle'},
            s:{fontSize:53, fontFamily:"'Liberation Sans'", fill:'#000', lineHeight:46, verticalAlign:'bottom'}}}},
    txt(2398, 194, 'K', "68px 'Liberation Sans'", {align:'left'}),
    txt(292, 1027, 'b) Zonal Mean Zonal wind at 60N', "70px 'Liberation Sans'", {align:'left'}),
    txt(2337, 1027, 'm/s', "70px 'Liberation Sans'", {align:'left'}),
    // axis names
    txt(1294, 923, 'Years', '55px ' + FONT),
    txt(1290, 1629, 'Years', '55px ' + FONT),
    Object.assign(txt(99, 497, 'Temperature', '40px ' + FONT), {rotation:Math.PI/2}),
    Object.assign(txt(157, 497, 'differences', '40px ' + FONT), {rotation:Math.PI/2}),
    Object.assign(txt(130, 1380, 'Zonal', '40px ' + FONT), {rotation:Math.PI/2}),
    Object.assign(txt(185, 1385, 'Wind', '40px ' + FONT), {rotation:Math.PI/2}),
    // annotation boxes
    {type:'rect', z:90, shape:{x:1091, y:38, width:837, height:116}, style:{fill:'#FDC434', stroke:'#D0675C', lineWidth:5}},
    txt(1509, 80, 'T gradient reversal', annoFont, {fill:'#1E58D2'}),
    {type:'rect', z:90, shape:{x:1815, y:1613, width:700, height:200}, style:{fill:'#FDC434', stroke:'#D0675C', lineWidth:5}},
    txt(2145, 1667, 'Wind reversal', annoFont, {fill:'#1E58D2'}),
    ...arrow(1481, 154, 1767, 468),
    ...arrow(1815, 1613, 1014, 1444),
    ...arrow(1815, 1613, 1441, 1436)
  ]
};
const chart = echarts.init(document.getElementById('c'), null, {renderer:'canvas', width:2409, height:1707});
chart.setOption(option);
</script></body></html>
